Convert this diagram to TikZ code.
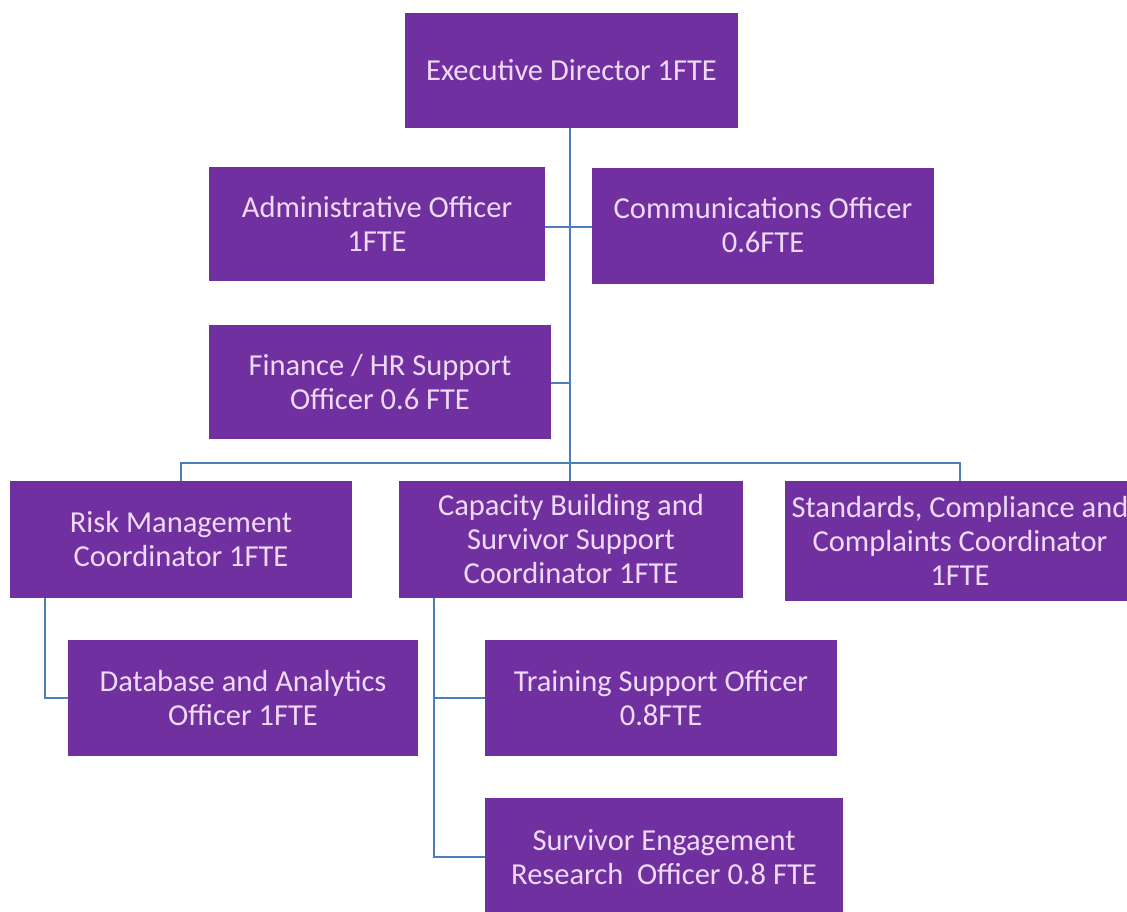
\documentclass[tikz,border=0pt]{standalone}
\usepackage{fontspec}
\setmainfont{Carlito}
\definecolor{boxpurple}{HTML}{7030A0}
\definecolor{boxtext}{HTML}{EEDAF7}
\definecolor{linkblue}{HTML}{4A7EBB}
\tikzset{
  orgbox/.style={draw=none, fill=boxpurple, text=boxtext, align=center, inner sep=0pt,
    font=\fontsize{30.5}{34}\selectfont},
  link/.style={draw=linkblue, line width=1.8pt}
}
\begin{document}
\begin{tikzpicture}[x=1pt,y=-1pt]
\useasboundingbox (0,0) rectangle (1127,911);
\clip (0,0) rectangle (1127,911);
\fill[white] (0,0) rectangle (1127,911);
% nodes
\node[orgbox, minimum width=333pt, minimum height=115pt] (exec) at (571.5,70.5) {Executive Director 1FTE};
\node[orgbox, minimum width=336pt, minimum height=114pt] (admin) at (377,223.5) {Administrative Officer\\1FTE};
\node[orgbox, minimum width=342pt, minimum height=116pt] (comms) at (763,225.5) {Communications Officer\\0.6FTE};
\node[orgbox, minimum width=342pt, minimum height=114pt] (fin) at (380,382) {Finance / HR Support\\Officer 0.6 FTE};
\node[orgbox, minimum width=342pt, minimum height=117pt] (risk) at (181,539.5) {Risk Management\\Coordinator 1FTE};
\node[orgbox, minimum width=344pt, minimum height=117pt] (cap) at (571,539.5) {Capacity Building and\\Survivor Support\\Coordinator 1FTE};
\node[orgbox, minimum width=350pt, minimum height=120pt] (std) at (960,541) {Standards, Compliance and\\Complaints Coordinator\\1FTE};
\node[orgbox, minimum width=350pt, minimum height=116pt] (db) at (243,698) {Database and Analytics\\Officer 1FTE};
\node[orgbox, minimum width=352pt, minimum height=116pt] (train) at (661,698) {Training Support Officer\\0.8FTE};
\node[orgbox, minimum width=358pt, minimum height=118pt] (surv) at (664,857) {Survivor Engagement\\Research\ \ Officer 0.8 FTE};
% connectors
\coordinate (bus) at (570,463);
\draw[link] (exec.south -| bus) -- (bus);
\draw[link] (admin.east |- 0,227) -- (comms.west |- 0,227);
\draw[link] (fin.east |- 0,383) -- (570,383);
\draw[link] (risk.north) |- (bus) -| (std.north);
\draw[link] (bus) -- (cap.north -| bus);
\draw[link] (risk.south -| 45,0) |- (db.west);
\draw[link] (cap.south -| 434,0) |- (surv.west);
\draw[link] (train.west -| 434,0) -- (train.west);
\end{tikzpicture}
\end{document}
